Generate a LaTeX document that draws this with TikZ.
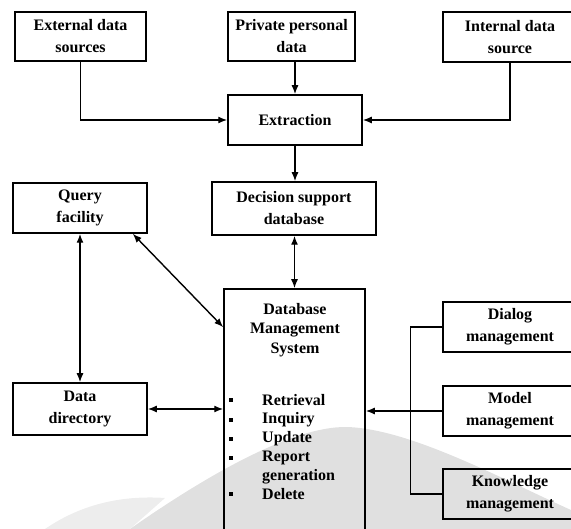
\documentclass[tikz,border=0pt]{standalone}
\usepackage{fontspec}
\setmainfont{Liberation Serif}
\usetikzlibrary{arrows.meta}
\begin{document}
\begin{tikzpicture}[x=1pt,y=-1pt,
  box/.style={draw, line width=1.5pt, inner sep=0pt, align=center,
    font=\fontsize{16}{22}\selectfont\bfseries},
  lbl/.style={inner sep=0pt, font=\fontsize{16}{19.5}\selectfont\bfseries},
  conn/.style={line width=1.4pt},
  tip/.style={conn, -{Latex[length=9pt,width=7pt]}},
  both/.style={conn, {Latex[length=9pt,width=7pt]}-{Latex[length=9pt,width=7pt]}}
]
\useasboundingbox (0,0) rectangle (571,529);
\clip (0,0) rectangle (571,529);

% pale shading in the lower part of the sheet
\fill[black!12] (130,529) .. controls (200,480) and (290,426) .. (347,427)
  .. controls (410,429) and (500,478) .. (571,510) -- (571,529) -- cycle;
\fill[black!7] (45,529) .. controls (80,505) and (120,495) .. (165,498)
  -- (130,529) -- cycle;

% sources
\node[box, minimum width=131pt, minimum height=49pt] (ext) at (80.5,36.5)
  {External data\\sources};
\node[box, minimum width=127pt, minimum height=49pt] (priv) at (291.5,36.5)
  {Private personal\\data};
\node[box, minimum width=134pt, minimum height=50pt] (int) at (510,37)
  {Internal data\\source};

% extraction and decision support database
\node[box, minimum width=134pt, minimum height=50pt] (extr) at (295,120)
  {Extraction};
\node[box, minimum width=164pt, minimum height=53pt] (dec) at (294,208.5)
  {Decision support\\database};

% left column
\node[box, minimum width=134pt, minimum height=50pt] (query) at (80,208)
  {Query\\facility};
\node[box, minimum width=134pt, minimum height=52pt] (dd) at (80,409)
  {Data\\directory};

% database management system
\node[box, minimum width=141pt, minimum height=251pt] (dbms) at (294.5,414.5) {};
\node[lbl, align=center, anchor=north] (dbmstitle) at (295,303)
  {Database\\Management\\System};
\foreach \y/\t [count=\i] in {400/Retrieval, 420/Inquiry, 439/Update, 458/Report, 494/Delete}{
  \node[lbl, anchor=west] (item\i) at (262,\y) {\t};
  \node[fill, inner sep=0pt, minimum size=4pt] (dot\i) at (231,\y) {};
}
\node[lbl, anchor=west] (item4b) at (262,477) {generation};

% management components
\node[box, minimum width=134pt, minimum height=50pt] (dialog) at (510,327)
  {Dialog\\management};
\node[box, minimum width=134pt, minimum height=50pt] (model) at (510,411)
  {Model\\management};
\node[box, minimum width=134pt, minimum height=50pt] (know) at (510,494)
  {Knowledge\\management};

% connectors
\draw[tip] (ext.south) |- (extr.west);
\draw[tip] (int.south) |- (extr.east);
\draw[tip] (extr.north |- priv.south) -- (extr.north);
\draw[tip] (extr.south) -- (extr.south |- dec.north);
\draw[both] (dbms.north |- dec.south) -- (dbms.north);
\draw[both] (query.south) -- (dd.north);
\draw[both] ([xshift=-15pt]query.south east) -- ([yshift=-39pt]dbms.north west);
\draw[both] (dd.east) -- (dd.east -| dbms.west);
\draw[conn] (dialog.west) -- ++(-32,0) |- (know.west);
\draw[tip] (model.west) -- (model.west -| dbms.east);
\end{tikzpicture}
\end{document}
